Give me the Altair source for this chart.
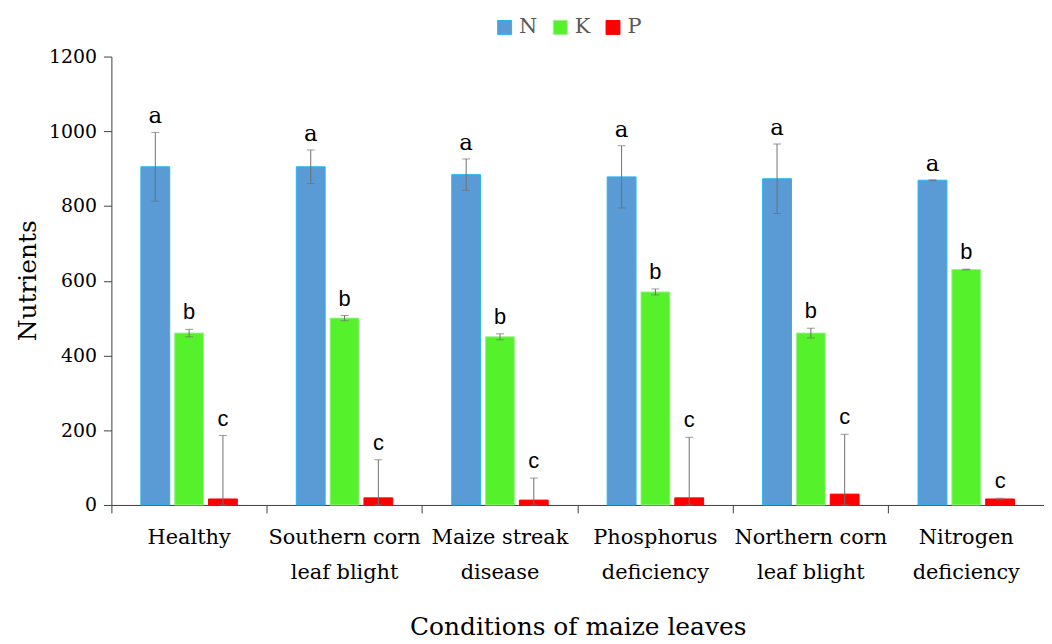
import altair as alt
import pandas as pd

conditions = ["Healthy", "Southern corn leaf blight", "Maize streak disease",
              "Phosphorus deficiency", "Northern corn leaf blight", "Nitrogen deficiency"]
labels = [["Healthy"], ["Southern corn", "leaf blight"], ["Maize streak", "disease"],
          ["Phosphorus", "deficiency"], ["Northern corn", "leaf blight"], ["Nitrogen", "deficiency"]]
nutrients = ["N", "K", "P"]

n_vals = [905, 905, 884, 878, 873, 869]
n_errs = [92, 45, 42, 83, 93, 1]
k_vals = [460, 500, 450, 570, 460, 630]
k_errs = [10, 7, 8, 8, 13, 1]
p_vals = [16, 19, 13, 19, 29, 16]
p_errs = [170, 102, 59, 162, 160, 2]
letters = {"N": "a", "K": "b", "P": "c"}

SERIF = "DejaVu Serif"
SANS = "Liberation Sans"

rows = []
for nut, vals, errs in [("N", n_vals, n_errs), ("K", k_vals, k_errs), ("P", p_vals, p_errs)]:
    for c, v, e in zip(conditions, vals, errs):
        rows.append({"cond": c, "nut": nut, "value": v,
                     "lo": max(v - e, 0), "hi": v + e, "letter": letters[nut]})
df = pd.DataFrame(rows)

label_expr = "datum.value == 'Healthy' ? ['Healthy'] : " + " : ".join(
    [f"datum.value == '{c}' ? {l}" for c, l in zip(conditions[1:-1], labels[1:-1])]
) + f" : {labels[-1]}"

x = alt.X("cond:N", sort=conditions, title="Conditions of maize leaves",
          scale=alt.Scale(paddingInner=0, paddingOuter=0),
          axis=alt.Axis(bandPosition=0, labelAngle=0, labelExpr=label_expr,
                        labelFont=SERIF, labelFontSize=21, labelColor="black",
                        labelLineHeight=35, labelPadding=14, labelBaseline="top",
                        tickSize=8, tickColor="#404040", domainColor="#404040",
                        titleFont=SERIF, titleFontSize=25, titleFontWeight="normal",
                        titleColor="black", titleX=469, titleY=122, titleBaseline="middle"))
xo = alt.XOffset("nut:N", sort=nutrients,
                 scale=alt.Scale(paddingInner=0.147, paddingOuter=0.872))

base = alt.Chart(df).encode(x=x, xOffset=xo)

bars = base.mark_bar(strokeWidth=1).encode(
    y=alt.Y("value:Q", title="Nutrients",
            scale=alt.Scale(domain=[0, 1200]),
            axis=alt.Axis(values=[0, 200, 400, 600, 800, 1000, 1200], grid=False, format="d",
                          labelFont=SERIF, labelFontSize=19, labelColor="black",
                          labelPadding=7, tickSize=8, tickColor="#404040", domainColor="#404040",
                          titleFont=SERIF, titleFontSize=25, titleFontWeight="normal",
                          titleColor="black", titleX=-84, titleY=225, titleAngle=270,
                          titleBaseline="middle", titleAlign="center")),
    color=alt.Color("nut:N", sort=nutrients, title=None,
                    scale=alt.Scale(domain=nutrients, range=["#5B9BD5", "#55F22C", "#FF0000"]),
                    legend=alt.Legend(orient="none", direction="horizontal", legendX=385, legendY=-40,
                                      symbolType="square", symbolSize=196, labelFont=SERIF,
                                      labelFontSize=21, labelColor="#595959", labelOffset=4,
                                      columnPadding=12, padding=0, symbolStrokeWidth=1)),
    stroke=alt.Stroke("nut:N", sort=nutrients, legend=None,
                      scale=alt.Scale(domain=nutrients, range=["#22B4F2", "#9BF08A", "#FF0000"])),
)

rules = base.mark_rule(color="#707070", strokeWidth=1).encode(y="lo:Q", y2="hi:Q")
caps_hi = base.mark_tick(color="#707070", thickness=1, size=8).encode(y="hi:Q")
caps_lo = base.mark_tick(color="#707070", thickness=1, size=8).encode(y="lo:Q")

text_a = base.transform_filter(alt.datum.nut == "N").mark_text(
    font=SERIF, fontSize=23, baseline="bottom", dy=-4, color="black"
).encode(y="hi:Q", text="letter:N")
text_bc = base.transform_filter(alt.datum.nut != "N").mark_text(
    font=SANS, fontSize=22, baseline="bottom", dy=-5, color="black"
).encode(y="hi:Q", text="letter:N")

chart = alt.layer(bars, rules, caps_hi, caps_lo, text_a, text_bc).properties(
    width=938, height=451,
    autosize=alt.AutoSizeParams(type="none"),
    padding={"left": 104, "top": 47, "right": 0, "bottom": 136},
).configure_view(stroke=None)

chart.save("out.html", embed_options={"renderer": "svg", "actions": False})
